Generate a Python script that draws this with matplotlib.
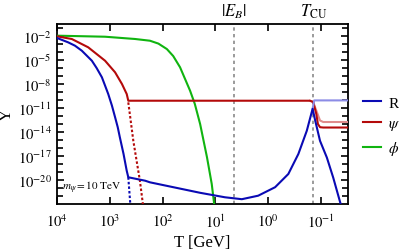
import matplotlib
matplotlib.use("Agg")
import matplotlib.pyplot as plt
import numpy as np
from matplotlib.lines import Line2D

plt.rcParams['font.family'] = ['Liberation Serif', 'DejaVu Serif']
plt.rcParams['mathtext.fontset'] = 'stix'

# ---- data (log10 T [GeV], log10 Y) ----
R_logT = [4.0, 3.79, 3.66, 3.53, 3.34, 3.25, 3.15, 3.09, 3.03, 2.96, 2.90, 2.85, 2.81, 2.74,
          2.68, 2.65, 2.33, 2.24, 1.29, 0.82, 0.50, 0.19, -0.13, -0.38, -0.57, -0.73, -0.84,
          -0.89, -0.98, -1.11, -1.23, -1.36, -1.38]
R_logY = [-2.25, -2.79, -3.21, -3.84, -5.09, -6.0, -7.16, -8.2, -9.25, -10.7, -12.16, -13.4,
          -14.66, -16.75, -18.84, -19.66, -20.09, -20.29, -21.6, -22.16, -22.4, -21.96, -20.9,
          -19.25, -16.75, -13.84, -11.1, -12.6, -15.1, -17.2, -19.7, -22.75, -23.2]
R_dot_logT = [2.65, 2.61]
R_dot_logY = [-19.66, -23.2]
R_light_logT = [-0.84, -0.87, -1.51]
R_light_logY = [-11.1, -10.05, -10.05]

psi_logT = [4.0, 3.72, 3.41, 3.09, 2.90, 2.77, 2.68, 2.65, -0.79, -0.85, -0.91,
            -0.94, -0.98, -1.04, -1.51]
psi_logY = [-2.04, -2.375, -3.41, -5.09, -6.54, -8.0, -9.25, -10.09, -10.09, -10.25, -11.75,
            -13.0, -13.4, -13.44, -13.44]
psi_dot_logT = [2.65, 2.555, 2.43, 2.37]
psi_dot_logY = [-10.3, -15.1, -20.1, -23.2]
psi_light_logT = [-0.79, -0.85, -0.92, -0.98, -1.04, -1.51]
psi_light_logY = [-10.09, -10.25, -11.5, -12.56, -12.75, -12.75]

phi_logT = [4.0, 3.09, 2.52, 2.24, 2.08, 1.92, 1.80, 1.67, 1.48, 1.39, 1.29, 1.16, 1.07, 1.02]
phi_logY = [-1.96, -2.09, -2.375, -2.59, -2.95, -3.63, -4.5, -5.91, -8.84, -10.5, -13.0,
            -17.16, -20.5, -23.2]

E_B = 4.45
T_CU = 0.141

x_ticks = [1e4, 1e3, 1e2, 1e1, 1e0, 1e-1]
x_ticklabels = [r'$10^{4}$', r'$10^{3}$', r'$10^{2}$', r'$10^{1}$', r'$10^{0}$', r'$10^{-1}$']
y_ticks = [1e-2, 1e-5, 1e-8, 1e-11, 1e-14, 1e-17, 1e-20]
y_ticklabels = [r'$10^{-2}$', r'$10^{-5}$', r'$10^{-8}$', r'$10^{-11}$', r'$10^{-14}$',
                r'$10^{-17}$', r'$10^{-20}$']
legend_labels = ['R', r'$\psi$', r'$\phi$']

blue = '#0a0ab4'
red = '#b40a0a'
green = '#10b410'
light_blue = '#8c8ce6'
light_red = '#e08c8c'

def p(a):
    return 10.0 ** np.asarray(a)

fig = plt.figure(figsize=(3.99, 2.53), dpi=100)
ax = fig.add_axes([57/399, 1-205/253, (348-57)/399, (205-25)/253])

lw = 1.5
ax.axvline(E_B, color='#8a8a8a', lw=1.2, ls=(0, (2, 2)), zorder=1)
ax.axvline(T_CU, color='#8a8a8a', lw=1.2, ls=(0, (2, 2)), zorder=1)

ax.plot(p(phi_logT), p(phi_logY), color=green, lw=lw, zorder=3)
ax.plot(p(psi_dot_logT), p(psi_dot_logY), color=red, lw=lw, ls=(0, (1.2, 1.0)), zorder=3)
ax.plot(p(R_dot_logT), p(R_dot_logY), color=blue, lw=lw, ls=(0, (1.2, 1.0)), zorder=3)
ax.plot(p(psi_light_logT), p(psi_light_logY), color=light_red, lw=lw, zorder=3)
ax.plot(p(psi_logT), p(psi_logY), color=red, lw=lw, zorder=4)
ax.plot(p(R_light_logT), p(R_light_logY), color=light_blue, lw=lw, zorder=4)
ax.plot(p(R_logT), p(R_logY), color=blue, lw=lw, zorder=5)

ax.set_xscale('log')
ax.set_yscale('log')
ax.set_xlim(1e4, 10 ** -1.51)
ax.set_ylim(10 ** -23, 10 ** -0.5)

ax.set_xticks(x_ticks)
ax.set_xticklabels(x_ticklabels, fontsize=10.5)
ax.xaxis.set_minor_locator(matplotlib.ticker.NullLocator())
ax.set_yticks(y_ticks)
ax.set_yticklabels(y_ticklabels, fontsize=10.5)
ax.set_yticks([10.0 ** k for k in range(-22, 0)], minor=True)
ax.yaxis.set_minor_formatter(matplotlib.ticker.NullFormatter())

ax.tick_params(which='both', direction='in', top=True, right=True, width=1.2)
ax.tick_params(which='major', length=5)
ax.tick_params(axis='y', which='major', pad=4)
ax.tick_params(axis='x', which='major', pad=6)
ax.tick_params(which='minor', length=4)
for s in ax.spines.values():
    s.set_linewidth(1.3)

ax.set_xlabel('T [GeV]', fontsize=12)
ax.xaxis.set_label_coords((202 - 57) / 291, (205 - 235) / 180)
ax.set_ylabel('Y', fontsize=12)
ax.yaxis.set_label_coords((15 - 57) / 291, 0.5)

ax.text(E_B, 1.025, r'$|E_B|$', transform=ax.get_xaxis_transform(), ha='center', va='bottom', fontsize=12)
ax.text(T_CU, 1.025, r'$T_{\mathrm{CU}}$', transform=ax.get_xaxis_transform(), ha='center', va='bottom', fontsize=12)
ax.text(10 ** 3.9, 10 ** -20.9, r'$m_\psi = 10\ \mathrm{TeV}$', fontsize=8, ha='left', va='center')

handles = [Line2D([], [], color=blue, lw=lw), Line2D([], [], color=red, lw=lw),
           Line2D([], [], color=green, lw=lw)]
fig.legend(handles, legend_labels, loc='upper left', bbox_to_anchor=(363 / 399, 1 - 97 / 253),
           frameon=False, handlelength=1.2, handletextpad=0.45, fontsize=11,
           labelspacing=0.45, borderaxespad=0, borderpad=0)

fig.savefig('out.png', dpi=100)
